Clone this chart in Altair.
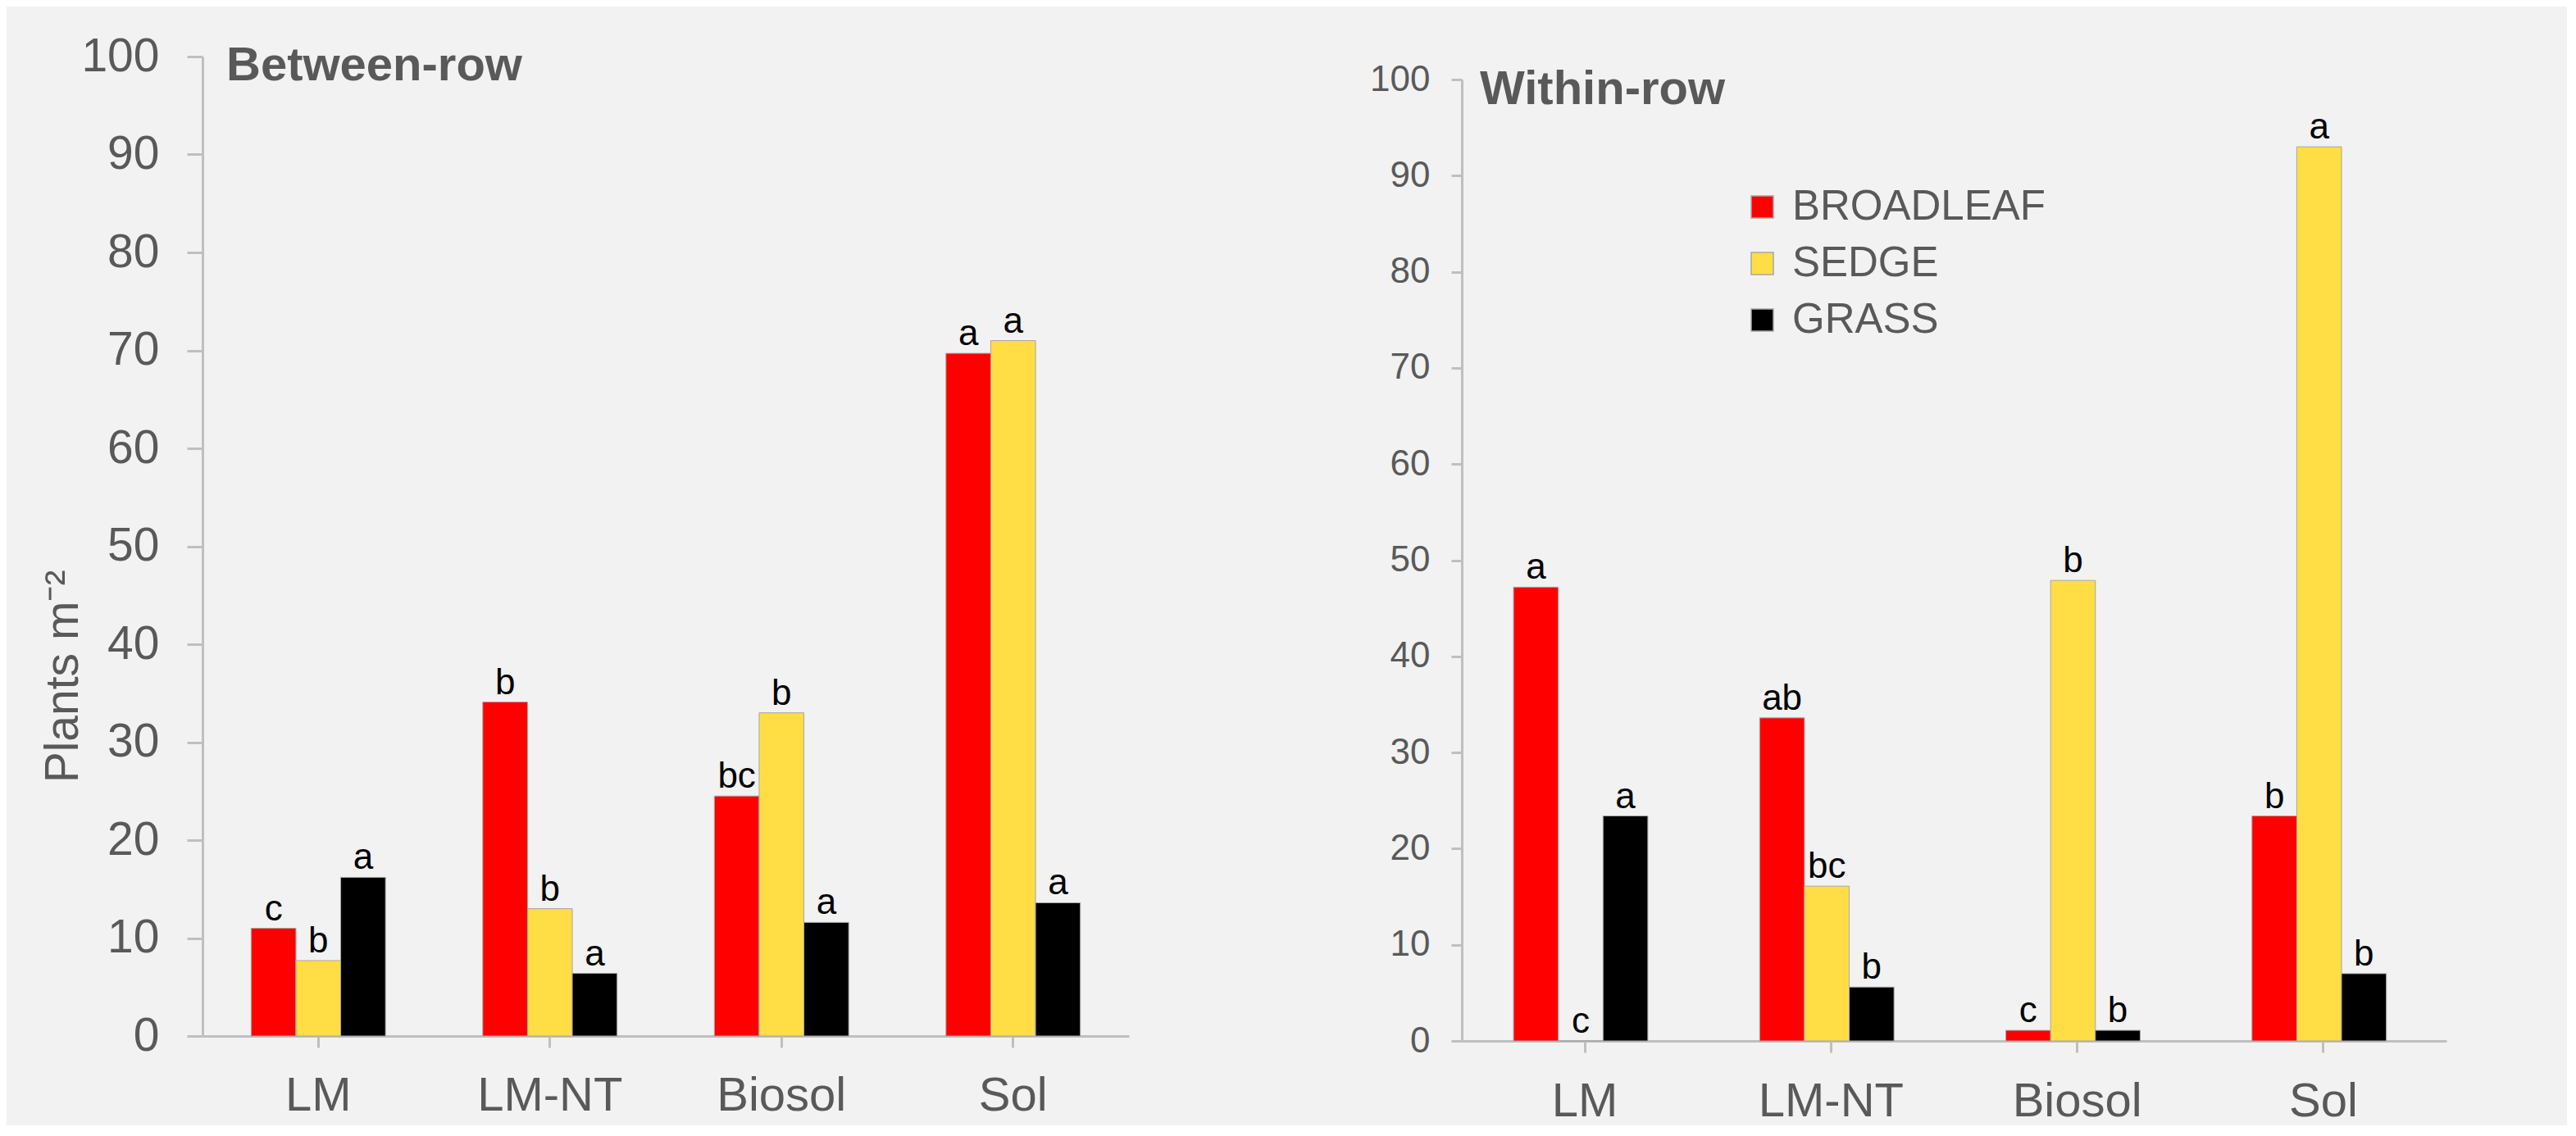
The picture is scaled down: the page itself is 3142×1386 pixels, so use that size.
import altair as alt
import pandas as pd

FONT = "Liberation Sans, Arial, sans-serif"
GREY = "#595959"
AXIS = "#bfbfbf"

treatments = ["LM", "LM-NT", "Biosol", "Sol"]
weed_types = ["BROADLEAF", "SEDGE", "GRASS"]
weed_colors = ["#ff0000", "#ffdd44", "#000000"]

# Between-row
between_broadleaf = [11.0, 34.1, 24.5, 69.7]
between_sedge = [7.7, 13.0, 33.0, 71.0]
between_grass = [16.2, 6.4, 11.6, 13.6]
between_broadleaf_letters = ["c", "b", "bc", "a"]
between_sedge_letters = ["b", "b", "b", "a"]
between_grass_letters = ["a", "a", "a", "a"]

# Within-row
within_broadleaf = [47.2, 33.6, 1.1, 23.4]
within_sedge = [0.0, 16.1, 47.9, 93.0]
within_grass = [23.4, 5.6, 1.1, 7.0]
within_broadleaf_letters = ["a", "ab", "c", "b"]
within_sedge_letters = ["c", "bc", "b", "a"]
within_grass_letters = ["a", "b", "b", "b"]

y_ticks = list(range(0, 101, 10))


def build_df(series, letters):
    rows = []
    for wt, vals, lets in zip(weed_types, series, letters):
        for t, v, l in zip(treatments, vals, lets):
            rows.append({"treatment": t, "type": wt, "value": v, "letter": l})
    return pd.DataFrame(rows)


df_between = build_df([between_broadleaf, between_sedge, between_grass],
                      [between_broadleaf_letters, between_sedge_letters, between_grass_letters])
df_within = build_df([within_broadleaf, within_sedge, within_grass],
                     [within_broadleaf_letters, within_sedge_letters, within_grass_letters])


def panel(df, title, width, height, yscale, yaxis, legend, title_x, title_y, x_label_pad):
    x = alt.X("treatment:N", sort=treatments,
              scale=alt.Scale(paddingInner=0.42, paddingOuter=0.21),
              axis=alt.Axis(title=None, labelAngle=0, labelFontSize=58, labelColor=GREY,
                            labelFont=FONT, tickSize=14, tickColor=AXIS, tickWidth=3,
                            domainColor=AXIS, domainWidth=3, labelPadding=x_label_pad,
                            grid=False))
    xo = alt.XOffset("type:N", sort=weed_types,
                     scale=alt.Scale(domain=weed_types, paddingInner=0, paddingOuter=0))
    y = alt.Y("value:Q", scale=yscale, axis=yaxis)
    color = alt.Color("type:N", sort=weed_types,
                      scale=alt.Scale(domain=weed_types, range=weed_colors),
                      legend=legend)
    base = alt.Chart(df)
    bars = base.mark_bar(stroke="#a6a6a6", strokeWidth=1).encode(x=x, xOffset=xo, y=y, color=color)
    letters = base.mark_text(baseline="alphabetic", dy=-10, fontSize=44, font=FONT,
                             color="black").encode(x=x, xOffset=xo, y=y, text="letter:N")
    ttl = alt.Chart(pd.DataFrame({"t": [title]})).mark_text(
        align="left", baseline="alphabetic", fontSize=58, fontWeight="bold",
        font=FONT, color=GREY).encode(x=alt.value(title_x), y=alt.value(title_y), text="t:N")
    return alt.layer(bars, letters, ttl).properties(width=width, height=height)


left_yaxis = alt.Axis(values=y_ticks, grid=False, labelFontSize=57, labelColor=GREY,
                      labelFont=FONT, labelPadding=34, tickSize=19, tickColor=AXIS,
                      tickWidth=3, domainColor=AXIS, domainWidth=3,
                      title="Plants m⁻²", titleFontSize=57, titleColor=GREY, titleFont=FONT,
                      titleFontWeight="normal", titleAngle=270, titleX=-170, titleY=756,
                      titleAlign="center", titleBaseline="middle")
right_yaxis = alt.Axis(values=y_ticks, grid=False, labelFontSize=44, labelColor=GREY,
                       labelFont=FONT, labelPadding=26, tickSize=13, tickColor=AXIS,
                       tickWidth=3, domainColor=AXIS, domainWidth=3, title=None)

legend = alt.Legend(orient="none", legendX=341, legendY=158, title=None,
                    symbolType="square", symbolSize=729, labelFontSize=51,
                    labelColor=GREY, labelFont=FONT, rowPadding=17, labelOffset=11,
                    labelLimit=0, padding=0)

left = panel(df_between, "Between-row", 1130, 1195,
             alt.Scale(domain=[0, 100]), left_yaxis, None, 29, 29, 30)
right = panel(df_within, "Within-row", 1201, 1201,
              alt.Scale(domain=[0, 100], range=[1201, 28]), right_yaxis, legend, 22, 58, 31)

chart = alt.hconcat(left, right, spacing=406, bounds="flush").resolve_scale(
    color="independent").resolve_legend(color="independent").properties(
    background="#f2f2f2",
    padding={"left": 40, "top": 32, "right": 147, "bottom": 0},
).configure_view(stroke=None)

chart.save("out.html", embed_options={"renderer": "svg", "actions": False})
